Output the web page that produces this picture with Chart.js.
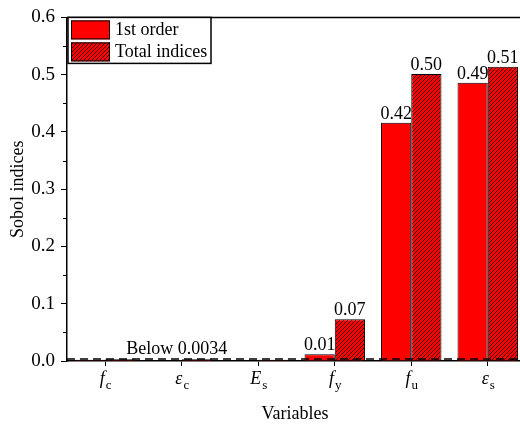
<!DOCTYPE html>
<html>
<head>
<meta charset="utf-8">
<script src="https://cdn.jsdelivr.net/npm/chart.js@4.4.0/dist/chart.umd.min.js"></script>
<style>
  html, body { margin: 0; padding: 0; background: #fff; }
  /* plot frame runs a few pixels past the right edge, so clip the canvas */
  #wrap { width: 520px; height: 424px; overflow: hidden; }
</style>
</head>
<body>
<div id="wrap"><canvas id="sobolChart" width="527" height="424"></canvas></div>
<script>
// variable symbol + subscript for each category
const variables = [['f', 'c'], ['ε', 'c'], ['E', 's'], ['f', 'y'], ['f', 'u'], ['ε', 's']];
const firstOrder = [0.002, 0.001, 0.001, 0.012, 0.416, 0.486];
const totalIndices = [0.003, 0.003, 0.002, 0.073, 0.501, 0.514];
const showValue = [false, false, false, true, true, true];
const seriesNames = ['1st order', 'Total indices'];
const thresholdValue = 0.0034;
const thresholdText = 'Below 0.0034';
const minorTicks = [0.05, 0.15, 0.25, 0.35, 0.45, 0.55];

const serif = "'Liberation Serif', 'Times New Roman', serif";

// red fill with black diagonal hatching
function makeHatch() {
    const c = document.createElement('canvas');
    c.width = 4; c.height = 4;
    const g = c.getContext('2d');
    g.fillStyle = '#ff0000';
    g.fillRect(0, 0, 4, 4);
    g.strokeStyle = '#000';
    g.lineWidth = 0.8;
    g.beginPath();
    g.moveTo(0, 4); g.lineTo(4, 0);
    g.moveTo(-1, 1); g.lineTo(1, -1);
    g.moveTo(3, 5); g.lineTo(5, 3);
    g.stroke();
    return g.createPattern(c, 'repeat');
}
const hatch = makeHatch();

const decor = {
    id: 'decor',
    afterDatasetsDraw(chart) {
        const ctx = chart.ctx;
        const a = chart.chartArea;
        const xs = chart.scales.x, ys = chart.scales.y;
        ctx.save();

        // threshold line
        const ty = ys.getPixelForValue(thresholdValue);
        ctx.strokeStyle = '#000';
        ctx.lineWidth = 1.5;
        ctx.setLineDash([8, 5]);
        ctx.beginPath();
        ctx.moveTo(a.left, ty);
        ctx.lineTo(a.right, ty);
        ctx.stroke();
        ctx.setLineDash([]);

        ctx.fillStyle = '#000';
        ctx.font = '18px ' + serif;
        ctx.textAlign = 'center';
        ctx.textBaseline = 'alphabetic';
        ctx.fillText(thresholdText, xs.getPixelForValue(1) - 5, ty - 5);

        // value labels above bars
        [firstOrder, totalIndices].forEach((vals, di) => {
            const meta = chart.getDatasetMeta(di);
            meta.data.forEach((bar, i) => {
                if (!showValue[i]) return;
                ctx.fillText(vals[i].toFixed(2), bar.x, bar.y - 4);
            });
        });

        // frame top and right
        ctx.lineWidth = 1.5;
        ctx.beginPath();
        ctx.moveTo(a.left, a.top);
        ctx.lineTo(a.right, a.top);
        ctx.lineTo(a.right, a.bottom);
        ctx.stroke();

        // minor ticks on y
        ctx.lineWidth = 1;
        minorTicks.forEach(v => {
            const y = Math.round(ys.getPixelForValue(v)) + 0.5;
            ctx.beginPath();
            ctx.moveTo(a.left - 4, y);
            ctx.lineTo(a.left, y);
            ctx.stroke();
        });

        // category labels: italic symbol with upright subscript
        variables.forEach((v, i) => {
            const cx = xs.getPixelForValue(i);
            ctx.font = 'italic 18px ' + serif;
            const w1 = ctx.measureText(v[0]).width;
            ctx.font = '13px ' + serif;
            const w2 = ctx.measureText(v[1]).width;
            const x0 = cx - (w1 + w2) / 2;
            ctx.textAlign = 'left';
            ctx.font = 'italic 18px ' + serif;
            ctx.fillText(v[0], x0, 384);
            ctx.font = '13px ' + serif;
            ctx.fillText(v[1], x0 + w1 + 1, 389);
        });

        // axis titles
        ctx.font = '18px ' + serif;
        ctx.textAlign = 'center';
        ctx.fillText('Variables', 295, 419);
        ctx.save();
        ctx.translate(23, (a.top + a.bottom) / 2);
        ctx.rotate(-Math.PI / 2);
        ctx.fillText('Sobol indices', 0, 0);
        ctx.restore();

        // legend box
        const lx = a.left + 1, ly = a.top, lw = 143, lh = 46;
        ctx.fillStyle = '#fff';
        ctx.fillRect(lx, ly, lw, lh);
        ctx.strokeStyle = '#000';
        ctx.lineWidth = 1.5;
        ctx.strokeRect(lx, ly, lw, lh);
        [['#ff0000', seriesNames[0]], [hatch, seriesNames[1]]].forEach((item, k) => {
            const sy = ly + 3 + k * 22;
            ctx.fillStyle = item[0];
            ctx.fillRect(lx + 3, sy, 39, 19);
            ctx.lineWidth = 1;
            ctx.strokeRect(lx + 3.5, sy + 0.5, 38, 18);
            ctx.fillStyle = '#000';
            ctx.textAlign = 'left';
            ctx.font = '18px ' + serif;
            ctx.fillText(item[1], lx + 47, sy + 15);
        });

        ctx.restore();
    }
};

const ctx = document.getElementById('sobolChart').getContext('2d');
const sobolChart = new Chart(ctx, {
    type: 'bar',
    data: {
        labels: variables.map(v => v.join('')),
        datasets: [
            {
                label: seriesNames[0],
                data: firstOrder,
                backgroundColor: '#ff0000',
                borderColor: '#000',
                borderWidth: 1,
                categoryPercentage: 0.79,
                barPercentage: 1
            },
            {
                label: seriesNames[1],
                data: totalIndices,
                backgroundColor: hatch,
                borderColor: '#000',
                borderWidth: 1,
                categoryPercentage: 0.79,
                barPercentage: 1
            }
        ]
    },
    options: {
        responsive: false,
        animation: false,
        layout: { padding: { left: 0, right: 1, top: 16, bottom: 0 } },
        plugins: {
            legend: { display: false },
            tooltip: { enabled: false }
        },
        scales: {
            x: {
                grid: { offset: false, drawOnChartArea: false, drawTicks: true, tickLength: 5, color: '#000', lineWidth: 1 },
                border: { display: true, color: '#000', width: 1.5 },
                ticks: { display: false },
                afterFit(scale) { scale.height = 63; }
            },
            y: {
                min: 0,
                max: 0.6,
                ticks: {
                    stepSize: 0.1,
                    padding: 6,
                    color: '#000',
                    font: { family: serif, size: 19 },
                    callback: v => v.toFixed(1)
                },
                grid: { drawOnChartArea: false, drawTicks: true, tickLength: 6, color: '#000', lineWidth: 1 },
                border: { display: true, color: '#000', width: 1.5 },
                afterFit(scale) { scale.width = 67; }
            }
        }
    },
    plugins: [decor]
});
</script>
</body>
</html>
